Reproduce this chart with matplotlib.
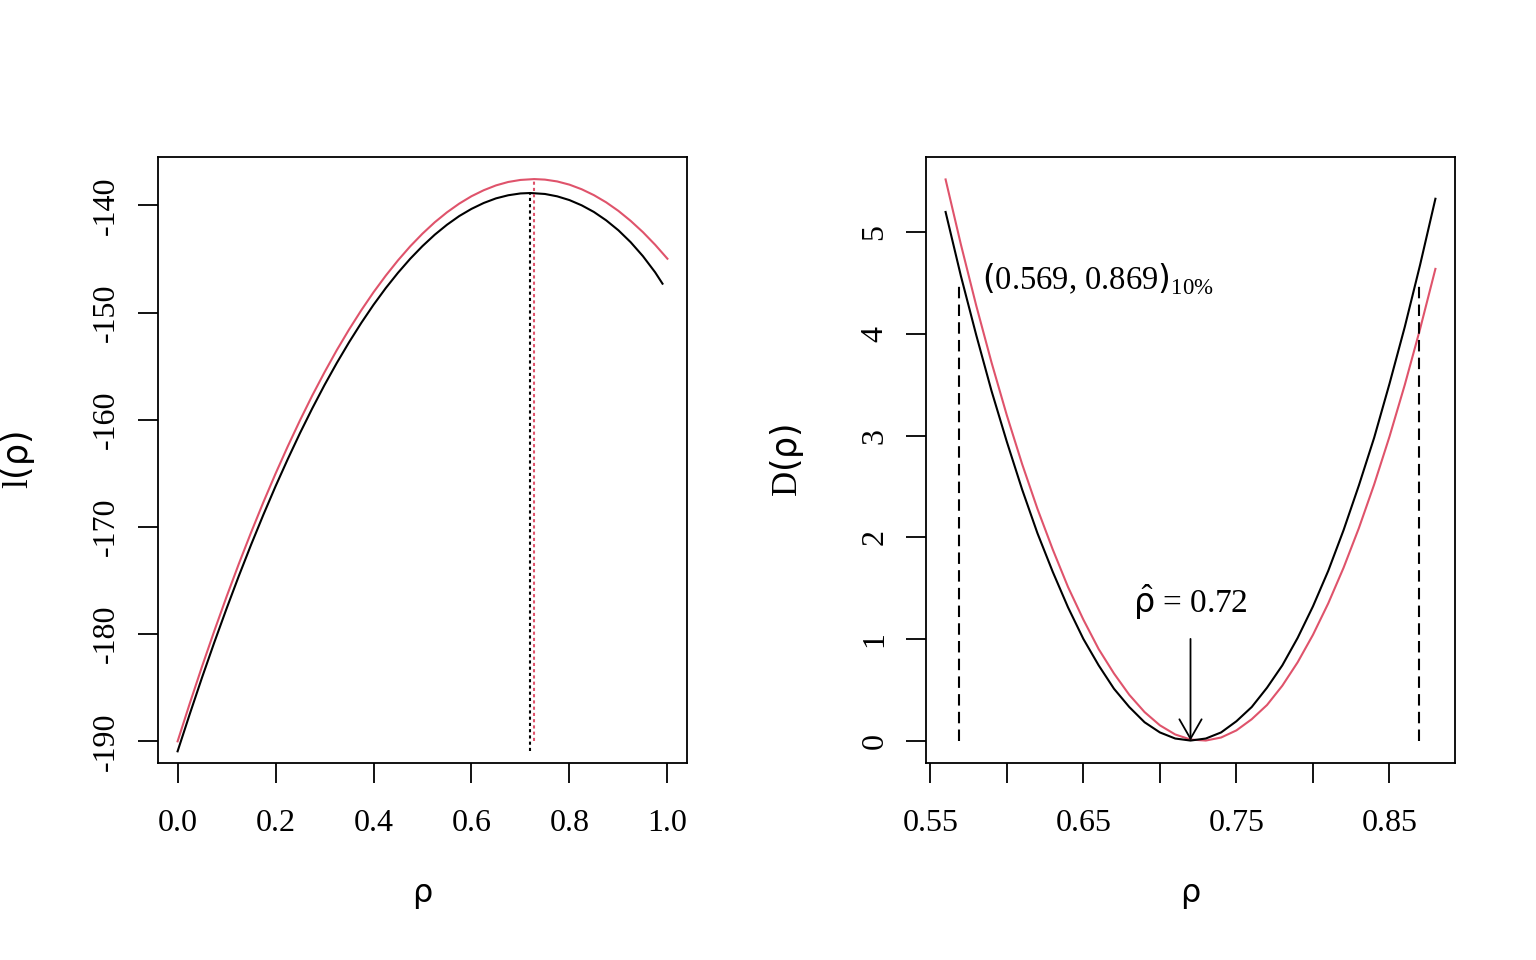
import numpy as np
import matplotlib.pyplot as plt

plt.rcParams['font.family'] = ['Liberation Serif', 'DejaVu Sans']
plt.rcParams['mathtext.fontset'] = 'custom'
plt.rcParams['mathtext.rm'] = 'Liberation Serif'
plt.rcParams['mathtext.it'] = 'DejaVu Sans'
plt.rcParams['mathtext.sf'] = 'DejaVu Sans'
plt.rcParams['mathtext.bf'] = 'Liberation Serif:bold'
plt.rcParams['axes.unicode_minus'] = False

# ---- left panel: log-likelihood l(rho) ----
rho_black = [0.000, 0.025, 0.050, 0.075, 0.100, 0.125, 0.150, 0.175, 0.200, 0.225,
             0.250, 0.275, 0.300, 0.325, 0.350, 0.375, 0.400, 0.425, 0.450, 0.475,
             0.500, 0.525, 0.550, 0.575, 0.600, 0.625, 0.650, 0.675, 0.700, 0.720,
             0.750, 0.775, 0.800, 0.825, 0.850, 0.875, 0.900, 0.925, 0.950, 0.975,
             0.990]
l_black = [-190.93, -187.43, -184.03, -180.76, -177.61, -174.57, -171.66, -168.87,
           -166.20, -163.66, -161.23, -158.93, -156.75, -154.70, -152.77, -150.96,
           -149.27, -147.71, -146.28, -144.97, -143.79, -142.73, -141.80, -140.99,
           -140.32, -139.77, -139.34, -139.05, -138.88, -138.84, -138.93, -139.15,
           -139.50, -139.99, -140.61, -141.39, -142.32, -143.43, -144.73, -146.24,
           -147.30]

rho_red = [0.000, 0.025, 0.050, 0.075, 0.100, 0.125, 0.150, 0.175, 0.200, 0.225,
           0.250, 0.275, 0.300, 0.325, 0.350, 0.375, 0.400, 0.425, 0.450, 0.475,
           0.500, 0.525, 0.550, 0.575, 0.600, 0.625, 0.650, 0.675, 0.700, 0.728,
           0.750, 0.775, 0.800, 0.825, 0.850, 0.875, 0.900, 0.925, 0.950, 0.975,
           1.000]
l_red = [-190.00, -186.44, -183.00, -179.69, -176.50, -173.44, -170.51, -167.70,
         -165.02, -162.47, -160.04, -157.73, -155.56, -153.50, -151.58, -149.78,
         -148.10, -146.55, -145.12, -143.81, -142.63, -141.57, -140.64, -139.83,
         -139.14, -138.58, -138.13, -137.81, -137.62, -137.54, -137.59, -137.76,
         -138.06, -138.49, -139.04, -139.71, -140.51, -141.44, -142.49, -143.67,
         -144.97]

# ---- right panel: deviance D(rho) ----
rho_dev = [0.56, 0.57, 0.58, 0.59, 0.60, 0.61, 0.62, 0.63, 0.64, 0.65, 0.66,
           0.67, 0.68, 0.69, 0.70, 0.71, 0.72, 0.73, 0.74, 0.75, 0.76, 0.77,
           0.78, 0.79, 0.80, 0.81, 0.82, 0.83, 0.84, 0.85, 0.86, 0.87, 0.88]
d_black = [5.20, 4.57, 3.99, 3.44, 2.94, 2.47, 2.04, 1.66, 1.31, 1.00, 0.74,
           0.51, 0.33, 0.18, 0.08, 0.02, 0.00, 0.02, 0.08, 0.19, 0.33, 0.52,
           0.74, 1.01, 1.32, 1.67, 2.07, 2.51, 2.98, 3.51, 4.07, 4.68, 5.33]
d_red = [5.52, 4.88, 4.28, 3.72, 3.20, 2.72, 2.28, 1.88, 1.51, 1.19, 0.90,
         0.66, 0.45, 0.28, 0.15, 0.06, 0.01, 0.00, 0.03, 0.10, 0.21, 0.35,
         0.54, 0.77, 1.04, 1.35, 1.70, 2.09, 2.52, 2.99, 3.50, 4.05, 4.64]

rho_hat = 0.72
ci_lo, ci_hi = 0.569, 0.869
ci_top = 4.5

red = '#DF536B'
lw = 1.5

fig = plt.figure(figsize=(15.36, 9.6), dpi=100)
ax1 = fig.add_axes([158 / 1536, 197 / 960, 529 / 1536, 606 / 960])
ax2 = fig.add_axes([926 / 1536, 197 / 960, 529 / 1536, 606 / 960])

# left
ax1.plot(rho_red, l_red, color=red, lw=lw)
ax1.plot(rho_black, l_black, color='black', lw=lw)
ib = int(np.argmax(l_black))
ir = int(np.argmax(l_red))
ax1.plot([rho_black[ib]] * 2, [min(l_black), max(l_black)], color='black',
         lw=lw, linestyle=(0, (1.5, 1.5)))
ax1.plot([rho_red[ir]] * 2, [min(l_red), max(l_red)], color=red,
         lw=lw, linestyle=(0, (1.5, 1.5)))
ax1.set_xlim(-0.04, 1.04)
ax1.set_ylim(-192.02, -135.48)
ax1.set_xticks([0.0, 0.2, 0.4, 0.6, 0.8, 1.0])
ax1.set_xticklabels(['0.0', '0.2', '0.4', '0.6', '0.8', '1.0'])
ax1.set_yticks([-190, -180, -170, -160, -150, -140])

# right
ax2.plot(rho_dev, d_red, color=red, lw=lw)
ax2.plot(rho_dev, d_black, color='black', lw=lw)
for x in (ci_lo, ci_hi):
    ax2.plot([x, x], [0, ci_top], color='black', lw=lw, linestyle=(0, (5.5, 3)))
ax2.annotate('', xy=(rho_hat, 0), xytext=(rho_hat, 1.0),
             arrowprops=dict(arrowstyle='->,head_length=0.7,head_width=0.4',
                             mutation_scale=20, lw=1.3, color='black',
                             shrinkA=0, shrinkB=0))
ax2.text(rho_hat, 1.25, r'$\hat{\rho}$ = 0.72', ha='center', va='baseline', fontsize=24)
ax2.text(0.5838, 4.44, r'$\mathsf{(}$0.569, 0.869$\mathsf{)}_{\mathrm{10\%}}$',
         ha='left', va='baseline', fontsize=23.5)
ax2.set_xlim(0.5472, 0.8928)
ax2.set_ylim(-0.2208, 5.7408)
ax2.set_xticks([0.55, 0.60, 0.65, 0.70, 0.75, 0.80, 0.85])
ax2.set_xticklabels(['0.55', '', '0.65', '', '0.75', '', '0.85'])
ax2.set_yticks([0, 1, 2, 3, 4, 5])

for ax in (ax1, ax2):
    for s in ax.spines.values():
        s.set_linewidth(1.3)
    ax.tick_params(direction='out', length=14.4, width=1.3, labelsize=23)
    ax.tick_params(axis='x', pad=19)
    ax.tick_params(axis='y', pad=12)
    for t in ax.get_yticklabels():
        t.set_rotation(90)
        t.set_va('center')
    ax.text(0.5, -0.221, r'$\rho$', transform=ax.transAxes, ha='center',
            va='center', fontsize=23)

ax1.text(-0.2647, 0.5, r'$\mathrm{l}\mathsf{(}\rho\mathsf{)}$', transform=ax1.transAxes,
         rotation=90, ha='center', va='center', fontsize=25)
ax2.text(-0.2628, 0.5, r'$\mathrm{D}\mathsf{(}\rho\mathsf{)}$', transform=ax2.transAxes,
         rotation=90, ha='center', va='center', fontsize=25)

fig.savefig('out.png', dpi=100)
